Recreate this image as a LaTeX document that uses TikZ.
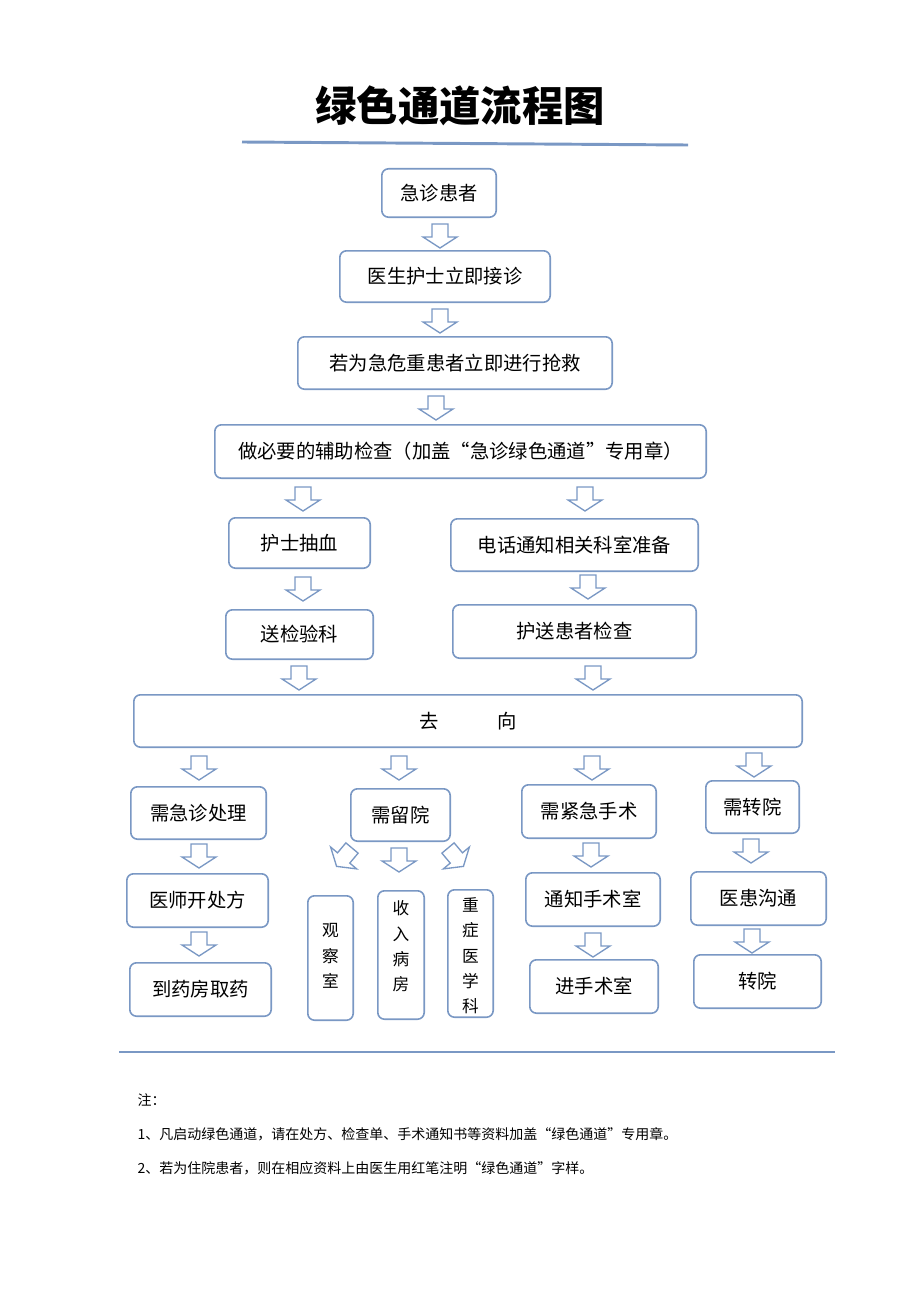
\documentclass[tikz,border=0pt]{standalone}
\usepackage{fontspec}
\setmainfont{Noto Sans CJK SC}
\begin{document}
\begin{tikzpicture}[x=0.75pt,y=-0.75pt,
  bx/.style={draw=bl,line width=1.2pt,rounded corners=5pt,fill=white,font=\fontsize{14.5}{16}\selectfont},
  vt/.style={bx,align=center,font=\fontsize{12.5}{19}\selectfont},
  ln/.style={draw=bl,line width=2.2pt},
  arr/.pic={\draw[draw=bl,line width=1pt,fill=white,line join=miter] (-8,0)--(8,0)--(8,13)--(17,13)--(0,24)--(-17,13)--(-8,13)--cycle;}]
\definecolor{bl}{RGB}{122,152,196}
\useasboundingbox (0,0) rectangle (920,1302);
\node[font=\fontsize{31}{34}\selectfont\bfseries] (title) at (460,106) {绿色通道流程图};
\coordinate (t1) at (242,142); \coordinate (t2) at (688,145);
\draw[ln] (t1)--(t2);
\def\B#1#2#3#4#5#6{\node[bx,minimum width=#4*0.75pt-1.2pt,minimum height=#5*0.75pt-1.2pt,anchor=north west,inner sep=0pt] (#1) at (#2,#3) {};
  \node at (#1.center) {\fontsize{14.5}{16}\selectfont #6};}
\B{a}{381}{168}{116}{50}{急诊患者}
\B{b}{339}{250}{212}{53}{医生护士立即接诊}
\B{c}{297}{336}{316}{54}{若为急危重患者立即进行抢救}
\B{d}{214}{424}{493}{55}{做必要的辅助检查（加盖“急诊绿色通道”专用章）}
\B{e}{228}{517}{143}{52}{护士抽血}
\B{f}{450}{518}{249}{54}{电话通知相关科室准备}
\B{g}{225}{609}{149}{51}{送检验科}
\B{h}{452}{604}{245}{55}{护送患者检查}
\B{i}{133}{694}{670}{54}{去\hspace{3em}向}
\B{j}{130}{786}{137}{54}{需急诊处理}
\B{k}{350}{788}{101}{54}{需留院}
\B{l}{521}{784}{136}{55}{需紧急手术}
\B{m}{705}{780}{95}{54}{需转院}
\B{n}{126}{873}{143}{55}{医师开处方}
\B{o}{525}{872}{136}{55}{通知手术室}
\B{p}{690}{871}{137}{55}{医患沟通}
\B{q}{129}{962}{143}{55}{到药房取药}
\B{r}{529}{959}{130}{55}{进手术室}
\B{s}{693}{954}{129}{55}{转院}
\def\V#1#2#3#4#5#6#7{\node[bx,minimum width=#4*0.75pt-1.2pt,minimum height=#5*0.75pt-1.2pt,anchor=north west,inner sep=0pt] (#1) at (#2,#3) {};
  \node[align=center,font=\fontsize{12.5}{19}\selectfont,anchor=north] at ([yshift=-#6*0.75pt]#1.north) {#7};}
\V{u}{307}{895}{47}{126}{24}{观\\察\\室}
\V{v}{377}{890}{48}{130}{6}{收\\入\\病\\房}
\V{w}{447}{889}{47}{129}{4}{重\\症\\医\\学\\科}
\foreach \x/\y in {440/224,440/309,436/396,303/487,585/487,303/577,588/575,299/666,593/666,199/756,399/756,592/756,754/753,199/844,399/848,591/843,751/839,199/932,593/933,752/929}
  \pic at (\x,\y) {arr};
\pic[rotate=-40] at (352,848) {arr};
\pic[rotate=40] at (448,848) {arr};
\coordinate (b1) at (119,1052); \coordinate (b2) at (835,1052);
\draw[ln] (b1)--(b2);
\begin{scope}[every node/.style={anchor=west,font=\fontsize{10.5}{12}\selectfont}]
\node (n0) at (133,1100) {注：};
\node (n1) at (133,1134) {1、凡启动绿色通道，请在处方、检查单、手术通知书等资料加盖“绿色通道”专用章。};
\node (n2) at (133,1168) {2、若为住院患者，则在相应资料上由医生用红笔注明“绿色通道”字样。};
\end{scope}
\end{tikzpicture}
\end{document}
